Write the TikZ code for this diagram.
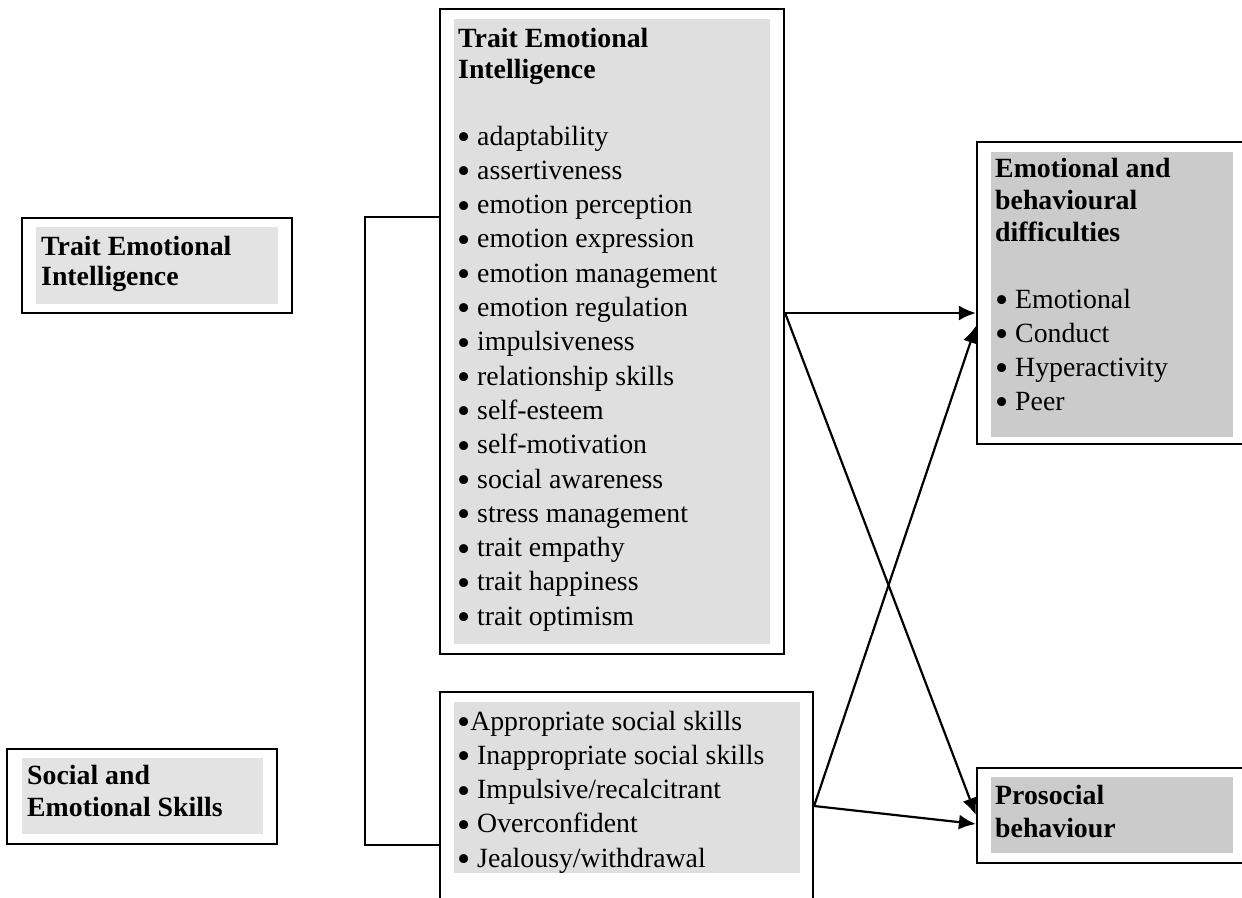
\documentclass[tikz,border=0pt]{standalone}
\usepackage{fontspec}
\setmainfont{Liberation Serif}
\usepackage{tikz}
\usetikzlibrary{arrows.meta}
\definecolor{shadeL}{HTML}{E3E3E3}
\definecolor{shadeM}{HTML}{DFDFDF}
\definecolor{shadeR}{HTML}{CBCBCB}
\newcommand\bul{\makebox[0.47em][l]{\raisebox{-0.16em}{\scalebox{1.35}{\textbullet}}}}

\begin{document}
\begin{tikzpicture}[x=1pt,y=-1pt,
    frame/.style={draw,line width=2.2pt,inner sep=0pt},
    shade/.style={inner sep=0pt},
    txt/.style={anchor=base west,inner sep=0pt,font=\fontsize{27.8}{34}\selectfont},
    head/.style={anchor=base west,inner sep=0pt,font=\fontsize{27.8}{34}\selectfont\bfseries},
    link/.style={line width=2.2pt,-{Latex[length=17pt,width=15pt]}}]
            \useasboundingbox (0,0) rectangle (1242,897);
            \clip (0,0) rectangle (1242,897);

            % frames
            \node [frame,minimum width=270,minimum height=95] (teiL) at (157,265.5) {};
            \node [frame,minimum width=270,minimum height=95] (ses) at (142,796.5) {};
            \node [frame,minimum width=344,minimum height=645] (big) at (612,331.5) {};
            \node [frame,minimum width=373,minimum height=228] (low) at (626.5,806) {};
            \node [frame,minimum width=275,minimum height=302] (ebd) at (1114.5,293) {};
            \node [frame,minimum width=275,minimum height=95] (pro) at (1114.5,815.5) {};

            % shaded panels
            \node [shade,fill=shadeL,minimum width=242,minimum height=77] (teiLs) at (157,265.5) {};
            \node [shade,fill=shadeL,minimum width=241,minimum height=76] (sess) at (142.5,796) {};
            \node [shade,fill=shadeM,minimum width=316,minimum height=625] (bigs) at (612,331.5) {};
            \node [shade,fill=shadeM,minimum width=346,minimum height=171] (lows) at (627,787.5) {};
            \node [shade,fill=shadeR,minimum width=242,minimum height=285] (ebds) at (1112,294.5) {};
            \node [shade,fill=shadeR,minimum width=242,minimum height=76] (pros) at (1112,815) {};

            % headings
            \node [head] (teiL1) at (41,255) {Trait Emotional};
            \node [head] (teiL2) at (41,285) {Intelligence};
            \node [head] (ses1) at (27,784) {Social and};
            \node [head] (ses2) at (27,816) {Emotional Skills};
            \node [head] (big1) at (458,47) {Trait Emotional};
            \node [head] (big2) at (458,78) {Intelligence};
            \node [head] (ebd1) at (995,177) {Emotional and};
            \node [head] (ebd2) at (995,209) {behavioural};
            \node [head] (ebd3) at (995,241) {difficulties};
            \node [head] (pro1) at (995,804) {Prosocial};
            \node [head] (pro2) at (995,837) {behaviour};

            % lists
            \foreach \t [count=\i from 0] in {adaptability,assertiveness,emotion perception,
                emotion expression,emotion management,emotion regulation,impulsiveness,
                relationship skills,self-esteem,self-motivation,social awareness,
                stress management,trait empathy,trait happiness,trait optimism} {
                \node [txt] (bigi\i) at (457,145+34.3*\i) {\bul\ \t};
            }
            \node [txt] (low0) at (457,730) {\bul Appropriate social skills};
            \foreach \t [count=\i] in {Inappropriate social skills,Impulsive/recalcitrant,
                Overconfident,Jealousy/withdrawal} {
                \node [txt] (low\i) at (457,730+34.3*\i) {\bul\ \t};
            }
            \foreach \t [count=\i from 0] in {Emotional,Conduct,Hyperactivity,Peer} {
                \node [txt] (ebdi\i) at (995,308+34*\i) {\bul\ \t};
            }

            % bracket
            \draw [line width=1.7pt] (big.west |- teiL.north) -- ++(-74,0) |- (low.west |- ses.south);

            % arrows
            \coordinate (bigOut) at (big.east |- 0,313);
            \draw [link] (bigOut) -- (ebd.west |- bigOut);
            \draw [link] (bigOut) -- (pro.west |- 0,815);
            \draw [link] (low.east) -- (ebd.west |- 0,326);
            \draw [link] (low.east) -- (pro.west |- 0,824);
        \end{tikzpicture}
\end{document}
